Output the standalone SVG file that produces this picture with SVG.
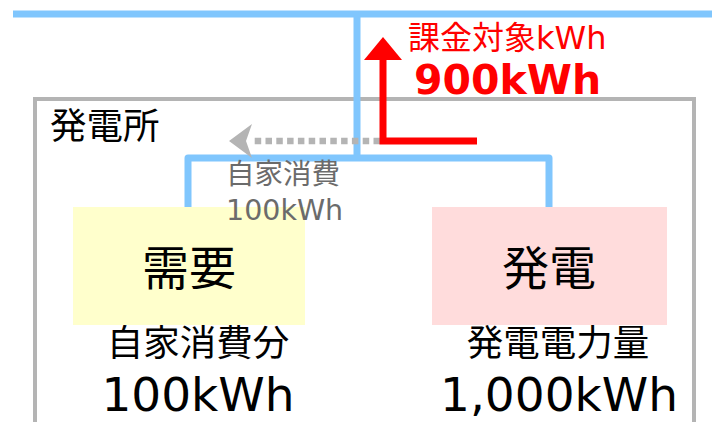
<svg xmlns="http://www.w3.org/2000/svg" width="712" height="422" viewBox="0 0 712 422">
<style>
text{font-family:"DejaVu Sans","Noto Sans CJK JP",sans-serif}
.blue{fill:none;stroke:#80c6fd;stroke-width:7;stroke-linejoin:round}
.blk{fill:#000}
.gry{fill:#6b6b6b;font-size:28.5px}
.red{fill:#ff0000}
</style>
<rect width="712" height="422" fill="#ffffff"/>
<g id="plant">
<rect x="35" y="99" width="659" height="360" fill="none" stroke="#b4b4b4" stroke-width="4"/>
<text class="blk" x="50" y="139" font-size="36.5">発電所</text>
</g>
<g id="connectors">
<path class="blue" d="M13 14 H712" stroke-width="8" style="stroke-linejoin:miter"/>
<path class="blue" d="M357 14 V158"/>
<path class="blue" d="M188 208 V158 H549 V208"/>
<path d="M380 141 H252" fill="none" stroke="#b4b4b4" stroke-width="6.5" stroke-dasharray="6.5 4.3"/>
<polygon points="229,141 252,124 246,141 252,158" fill="#b4b4b4"/>
<path d="M477 141 H383 V58" fill="none" stroke="#ff0000" stroke-width="7" stroke-linejoin="miter"/>
<polygon points="383,37 402,60 364,60" fill="#ff0000"/>
</g>
<g id="demand">
<rect x="73" y="207" width="232" height="118" fill="#ffffcc"/>
<text class="blk" x="189" y="285" font-size="47" text-anchor="middle">需要</text>
<text class="blk" x="198" y="356" font-size="36.5" text-anchor="middle">自家消費分</text>
<text class="blk" x="198" y="411" font-size="47" text-anchor="middle">100kWh</text>
</g>
<g id="generation">
<rect x="432" y="207" width="235" height="118" fill="#ffdcdc"/>
<text class="blk" x="549" y="285" font-size="47" text-anchor="middle">発電</text>
<text class="blk" x="558" y="356" font-size="36.5" text-anchor="middle">発電電力量</text>
<text class="blk" x="559" y="411" font-size="47" text-anchor="middle">1,000kWh</text>
</g>
<g id="labels">
<text class="gry" x="226" y="184">自家消費</text>
<text class="gry" x="226" y="220">100kWh</text>
<text class="red" x="408" y="49" font-size="32">課金対象kWh</text>
<text class="red" x="414" y="94" font-size="41" font-weight="bold">900kWh</text>
</g>
</svg>
